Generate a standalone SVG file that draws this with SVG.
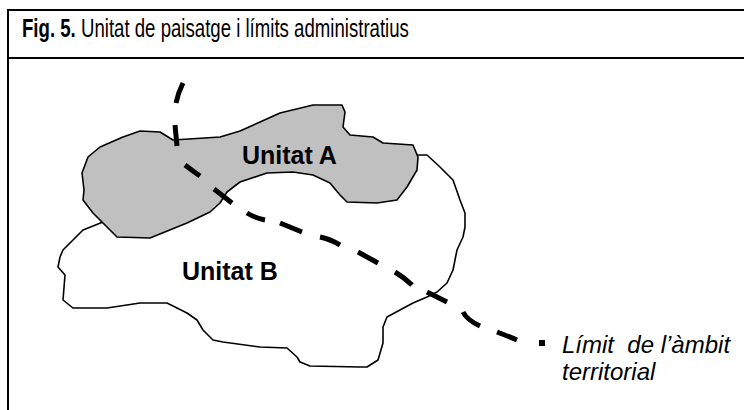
<svg xmlns="http://www.w3.org/2000/svg" width="744" height="410" viewBox="0 0 744 410">
<style>
.frame{fill:none;stroke:#000;stroke-width:2}
.unit{stroke:#000;stroke-width:1.6;stroke-linejoin:round}
.lbl{font-family:"Liberation Sans",Arial,sans-serif;font-weight:bold;font-size:25px;fill:#000}
.ttl{font-family:"Liberation Sans",Arial,sans-serif;font-size:26px;fill:#000}
.it{font-family:"Liberation Sans",Arial,sans-serif;font-style:italic;font-size:24px;fill:#000}
.dash{fill:none;stroke:#000;stroke-width:5;stroke-linecap:butt;stroke-linejoin:round}
</style>
<rect width="744" height="410" fill="#fff"/>
<g id="frame">
<path class="frame" d="M8,411 V10 H745 M8,58 H745"/>
<g transform="translate(22,37) scale(0.716,1)">
<text class="ttl" x="0" y="0"><tspan font-weight="bold">Fig. 5.</tspan> Unitat de paisatge i límits administratius</text>
</g>
</g>
<g id="unitatB">
<path class="unit" fill="#fff" d="M103,222 L83,230 L73,240 L63,250 L60,257 L58,267 L65,275 L63,300 L73,308 L107,308 L140,303 L167,303 L187,313 L197,320 L203,330 L213,340 L223,342 L260,347 L287,348 L297,357 L300,362 L310,366 L360,367 L367,367 L378,360 L383,343 L383,327 L387,317 L400,310 L413,303 L427,297 L437,292 L447,283 L453,270 L457,250 L463,237 L465,227 L465,213 L460,200 L453,180 L440,167 L427,155 L418,155 L380,165 L300,150 L240,160 L150,190 Z"/>
<text class="lbl" x="182" y="280">Unitat B</text>
</g>
<g id="unitatA">
<path class="unit" fill="#c0c0c0" d="M173,140 L220,137 L240,131 L260,122 L280,113 L313,105 L342,105 L345,112 L343,127 L350,135 L373,137 L383,143 L413,145 L418,157 L417,170 L407,187 L397,200 L377,203 L347,202 L340,195 L330,183 L313,175 L293,172 L267,173 L240,182 L227,192 L220,203 L210,212 L187,223 L150,238 L117,237 L103,223 L93,213 L83,200 L84,190 L82,173 L88,157 L100,147 L123,137 L140,131 L160,132 Z"/>
<text class="lbl" x="242" y="164">Unitat A</text>
</g>
<g id="limit">
<path class="dash" d="M183,83 Q178,93 176,103 M175,125 L177,146 M185,165 L193,171 L200,176 M214,189 L232,203 M247,213 Q255,218 265,220 M280,223 L302,232 M320,237 Q330,239 340,245 M358,252 L378,263 M395,272 Q405,278 412,285 M427,292 L447,302 M463,312 Q467,320 480,326 M497,332 Q510,337 517,340"/>
<rect x="539" y="340" width="6" height="6" fill="#000"/>
<text class="it" x="562" y="353">Límit&#160; de l’àmbit</text>
<text class="it" x="562" y="380">territorial</text>
</g>
</svg>
